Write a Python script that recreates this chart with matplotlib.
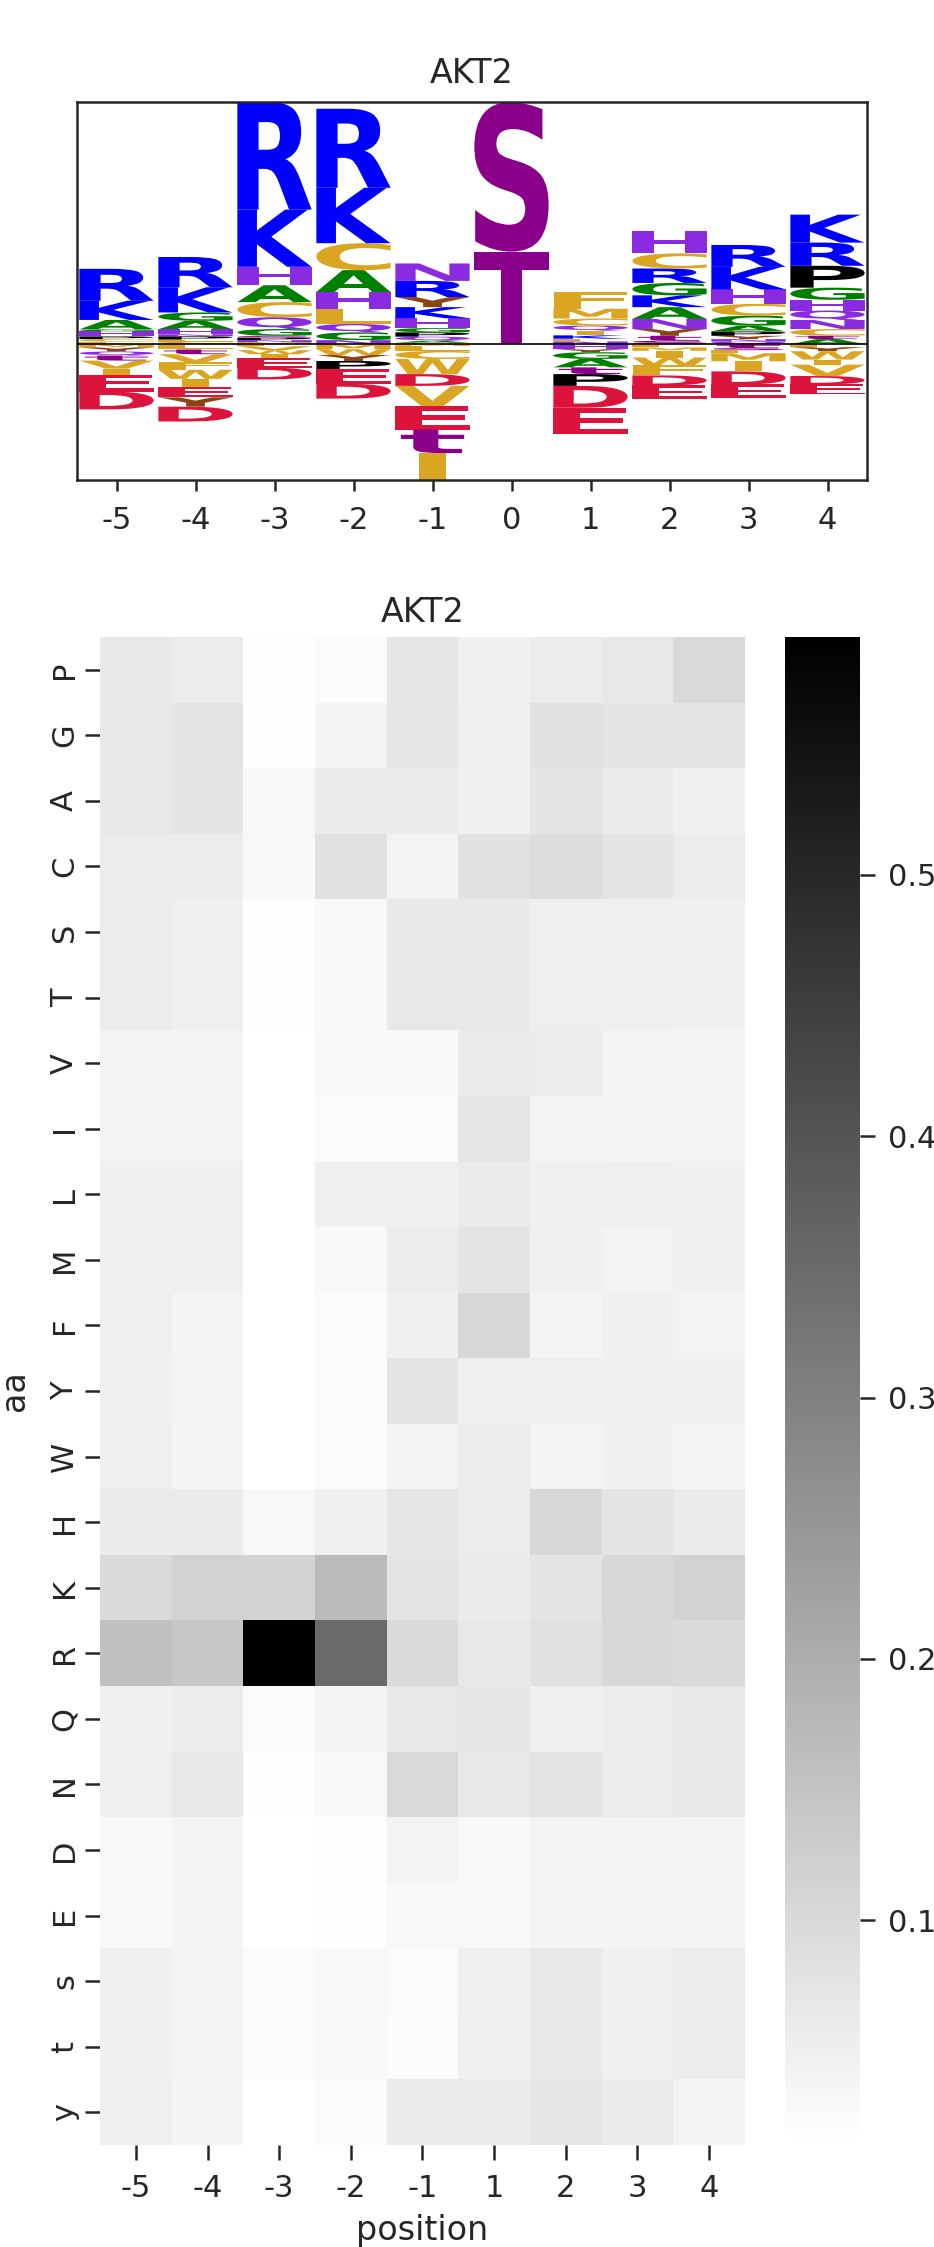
import numpy as np
import pandas as pd
import matplotlib
matplotlib.use("Agg")
import matplotlib.pyplot as plt
import seaborn as sns
from matplotlib.textpath import TextPath
from matplotlib.font_manager import FontProperties
from matplotlib.patches import PathPatch
from matplotlib.transforms import Affine2D

kinase = "AKT2"

# ---- logo: letter heights per position, listed from the baseline outward ----
logo_positions = [-5, -4, -3, -2, -1, 0, 1, 2, 3, 4]
logo_m5 = {'L': .025, 'C': .025, 'P': .027, 'H': .05, 'G': .02, 'A': .093, 'K': .19, 'R': .317,
           'M': -.033, 'Y': -.04, 'Q': -.04, 't': -.05, 'V': -.08, 'I': -.06, 'E': -.167, 'D': -.177}
logo_m4 = {'C': .025, 'L': .02, 'P': .033, 'N': .02, 'H': .05, 'A': .083, 'G': .083, 'K': .25, 'R': .30,
           'L_': -.053, 't': -.047, 'V': -.077, 'F': -.077, 'W': -.09, 'I': -.083, 'E': -.10,
           'Y': -.093, 'D': -.147}
logo_m3 = {'M': .02, 'N': .02, 'P': .023, 'S': .02, 'G': .067, 'Q': .117, 'C': .15, 'A': .167,
           'H': .183, 'K': .567, 'R': 1.067,
           'L': -.02, 'V': -.04, 'W': -.04, 'I': -.04, 'E': -.093, 'D': -.117}
logo_m2 = {'N': .04, 'G': .077, 'Q': .083, 'L': .15, 'H': .167, 'A': .217, 'C': .267, 'K': .55, 'R': .783,
           'M': -.05, 'W': -.057, 'Y': -.06, 'P': -.083, 'E': -.143, 'D': -.147}
logo_m1 = {'C': .014, 'A': .02, 'Q': .04, 'P': .043, 'G': .043, 'H': .097, 'K': .11, 'Y': .10,
           'R': .16, 'N': .173,
           'M': -.017, 'L': -.05, 'C_': -.08, 'W': -.15, 'D': -.117, 'V': -.20, 'E': -.233,
           't': -.233, 'I': -.267}
logo_0 = {'T': .917, 'S': 1.483}
logo_p1 = {'N': .027, 'L': .027, 'K': .033, 'I': .047, 'Q': .05, 'C': .07, 'M': .097, 'F': .17,
           'H': -.05, 'Y': -.03, 'G': -.067, 'A': -.083, 't': -.067, 'P': -.117, 'D': -.217, 'E': -.257}
logo_p2 = {'S': .033, 't': .05, 'Y': .067, 'N': .10, 'A': .117, 'K': .117, 'G': .123, 'R': .143,
           'C': .15, 'H': .217,
           'L': -.033, 'M': -.033, 'I': -.067, 'W': -.077, 'F': -.10, 'D': -.10, 'E': -.133}
logo_p3 = {'Q': .025, 'N': .025, 'Y': .033, 'P': .043, 'A': .057, 'G': .10, 'C': .117, 'H': .143,
           'K': .223, 'R': .217,
           't': -.04, 's': -.02, 'L': -.03, 'M': -.08, 'I': -.10, 'D': -.13, 'E': -.133}
logo_p4 = {'A': .05, 't': .033, 'C': .067, 'N': .09, 'Q': .093, 'H': .107, 'G': .12, 'P': .217,
           'R': .23, 'K': .277,
           'L': -.03, 'Y': -.04, 'W': -.083, 'I': -.05, 'V': -.113, 'D': -.083, 'E': -.10}
logo_columns = [logo_m5, logo_m4, logo_m3, logo_m2, logo_m1, logo_0, logo_p1, logo_p2, logo_p3, logo_p4]

aa_colors = {'R': 'blue', 'K': 'blue',
             'H': 'blueviolet', 'N': 'blueviolet', 'Q': 'blueviolet',
             'A': 'green', 'G': 'green',
             'C': 'goldenrod', 'F': 'goldenrod', 'L': 'goldenrod', 'M': 'goldenrod',
             'I': 'goldenrod', 'V': 'goldenrod', 'W': 'goldenrod',
             'Y': 'saddlebrown', 'y': 'saddlebrown',
             'S': 'darkmagenta', 'T': 'darkmagenta', 's': 'darkmagenta', 't': 'darkmagenta',
             'D': 'crimson', 'E': 'crimson', 'P': 'black'}

# ---- heatmap: frequency per amino acid / position ----
heat_positions = [-5, -4, -3, -2, -1, 1, 2, 3, 4]
heat_aa = ['P', 'G', 'A', 'C', 'S', 'T', 'V', 'I', 'L', 'M', 'F', 'Y', 'W', 'H', 'K', 'R',
           'Q', 'N', 'D', 'E', 's', 't', 'y']
heat_vals = [
    [.066, .057, .018, .025, .071, .048, .057, .066, .100],  # P
    [.066, .077, .018, .039, .071, .052, .082, .077, .077],  # G
    [.066, .077, .032, .061, .061, .048, .077, .061, .052],  # A
    [.057, .057, .032, .082, .043, .082, .091, .077, .057],  # C
    [.057, .052, .018, .032, .066, .066, .052, .052, .048],  # S
    [.057, .052, .018, .032, .066, .066, .052, .052, .048],  # T
    [.043, .043, .016, .032, .032, .061, .057, .043, .039],  # V
    [.043, .043, .016, .025, .025, .071, .043, .039, .043],  # I
    [.048, .048, .016, .048, .048, .061, .052, .052, .048],  # L
    [.048, .052, .016, .032, .057, .077, .048, .043, .048],  # M
    [.052, .039, .016, .025, .048, .104, .039, .048, .043],  # F
    [.052, .043, .016, .025, .077, .052, .052, .052, .048],  # Y
    [.052, .039, .016, .025, .043, .057, .043, .048, .039],  # W
    [.061, .061, .032, .048, .071, .057, .104, .077, .061],  # H
    [.098, .116, .116, .168, .077, .061, .077, .104, .116],  # K
    [.154, .143, .591, .351, .098, .066, .082, .104, .098],  # R
    [.048, .057, .025, .039, .066, .071, .052, .057, .066],  # Q
    [.052, .066, .018, .032, .100, .066, .077, .057, .066],  # N
    [.032, .039, .016, .018, .043, .032, .039, .039, .039],  # D
    [.032, .039, .014, .018, .032, .032, .039, .039, .039],  # E
    [.048, .043, .025, .032, .025, .048, .066, .048, .057],  # s
    [.048, .043, .025, .032, .021, .048, .066, .048, .057],  # t
    [.052, .039, .014, .025, .061, .061, .071, .061, .039],  # y
]

sns.set_style("ticks")
plt.rcParams['font.family'] = ['DejaVu Sans']
dark = '#262626'
fs_tick = 22
fs_lab = 24

fig = plt.figure(figsize=(9.34, 22.47), dpi=100)
W, H = 934, 2247
ax1 = fig.add_axes([77 / W, 1 - 480 / H, 790 / W, 378 / H])
ax2 = fig.add_axes([100 / W, 1 - 2145 / H, 645 / W, 1508 / H])
cax = fig.add_axes([785 / W, 1 - 2145 / H, 75 / W, 1508 / H])

# ---- draw the logo ----
fp = FontProperties(family='DejaVu Sans', weight='bold')
e_width = TextPath((0, 0), 'E', size=1, prop=fp).get_extents().width
col_width = 0.94


def draw_letter(ax, ch, x, y0, h):
    tp = TextPath((0, 0), ch, size=1, prop=fp)
    bb = tp.get_extents()
    sx = min(col_width / bb.width, col_width / e_width)
    w = bb.width * sx
    tr = Affine2D().translate(-bb.x0, -bb.y0).scale(sx, h / bb.height).translate(x - w / 2, y0)
    ax.add_patch(PathPatch(tr.transform_path(tp), fc=aa_colors[ch], ec='none', lw=0))


ymin, ymax = 0, 0
for pos, col in zip(logo_positions, logo_columns):
    up, down = 0.0, 0.0
    for key, v in col.items():
        ch = key.rstrip('_')
        if v > 0:
            draw_letter(ax1, ch, pos, up, v)
            up += v
        else:
            down += v
            draw_letter(ax1, ch, pos, down, -v)
    ymax, ymin = max(ymax, up), min(ymin, down)

ax1.axhline(0, color='black', lw=1.2, zorder=3)
ax1.set_xlim(-5.5, 4.5)
ax1.set_ylim(ymin, ymax)
ax1.set_xticks(logo_positions)
ax1.set_xticklabels([str(p) for p in logo_positions])
ax1.set_yticks([])
for sp in ax1.spines.values():
    sp.set_color(dark)
    sp.set_linewidth(1.8)
ax1.tick_params(axis='x', length=8, width=1.8, color=dark, labelsize=fs_tick, labelcolor=dark, pad=11)
ax1.set_title(kinase, fontsize=fs_lab, color=dark, pad=14)

# ---- draw the heatmap ----
df = pd.DataFrame(heat_vals, index=heat_aa, columns=heat_positions)
sns.heatmap(df, cmap='binary', ax=ax2, cbar_ax=cax)
ax2.set_title(kinase, fontsize=fs_lab, color=dark, pad=11)
ax2.set_xlabel('position', fontsize=fs_lab, color=dark, labelpad=8)
ax2.set_ylabel('aa', fontsize=fs_lab, color=dark, labelpad=14)
ax2.tick_params(axis='x', length=11, width=1.8, color=dark, labelsize=fs_tick, labelcolor=dark, pad=10)
ax2.tick_params(axis='y', length=11, width=1.8, color=dark, labelsize=fs_tick, labelcolor=dark, pad=4)
plt.setp(ax2.get_yticklabels(), rotation=90, va='center')
plt.setp(ax2.get_xticklabels(), rotation=0)
cax.tick_params(length=11, width=1.8, color=dark, labelsize=fs_tick, labelcolor=dark, pad=9)

fig.savefig('out.png', dpi=100)
